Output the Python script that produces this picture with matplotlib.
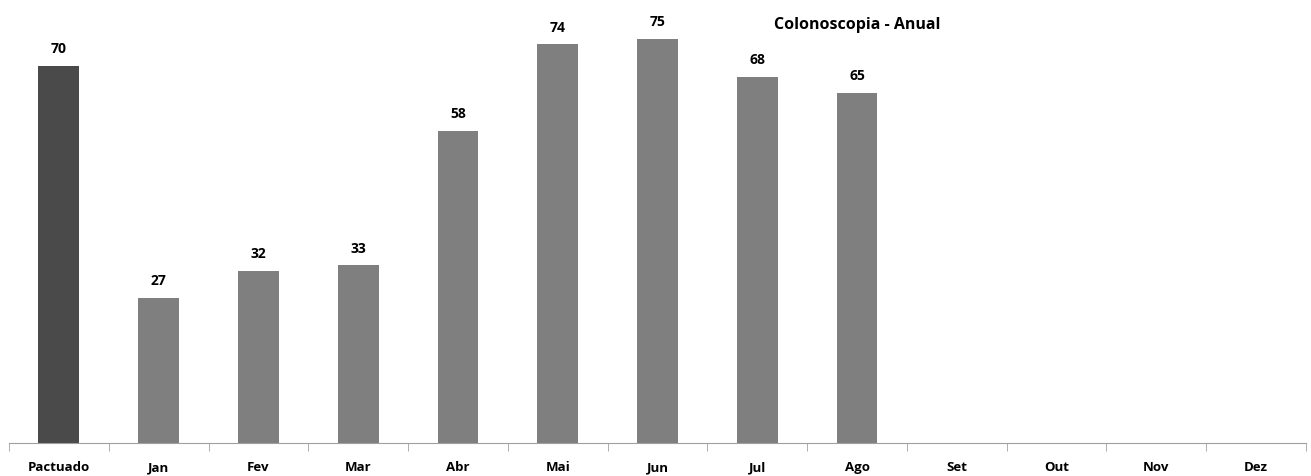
import matplotlib.pyplot as plt
import numpy as np

categories = ['Pactuado', 'Jan', 'Fev', 'Mar', 'Abr', 'Mai', 'Jun', 'Jul', 'Ago', 'Set', 'Out', 'Nov', 'Dez']
values = [70, 27, 32, 33, 58, 74, 75, 68, 65, None, None, None, None]

plt.rcParams['font.family'] = ['Open Sans', 'DejaVu Sans']

fig = plt.figure(figsize=(13.11, 4.76), dpi=100)
ax = fig.add_axes([9 / 1311, 33 / 476, 1297 / 1311, 431 / 476])

x = np.arange(len(categories))
colors = ['#4a4a4a'] + ['#7f7f7f'] * (len(categories) - 1)
for i, v in enumerate(values):
    if v is None:
        continue
    ax.bar(x[i], v, width=0.41, color=colors[i])
    ax.text(x[i], v + 1.8, str(v), ha='center', va='bottom', fontsize=10, fontweight='bold')

ax.set_xlim(-0.5, len(categories) - 0.5)
ax.set_ylim(0, 80)
ax.set_xticks(x)
ax.set_xticklabels(categories, fontsize=9.5, fontweight='bold')
ax.set_xticks(np.arange(-0.5, len(categories)), minor=True)
ax.tick_params(axis='x', which='major', length=0, pad=13)
ax.tick_params(axis='x', which='minor', length=6, color='#a0a0a0', direction='out')
ax.set_yticks([])
for s in ['top', 'right', 'left']:
    ax.spines[s].set_visible(False)
ax.spines['bottom'].set_color('#a0a0a0')

fig.text(857 / 1311, 1 - 25 / 476, 'Colonoscopia - Anual', ha='center', va='center',
         fontsize=11.5, fontweight='bold')

fig.savefig('out.png', dpi=100)
